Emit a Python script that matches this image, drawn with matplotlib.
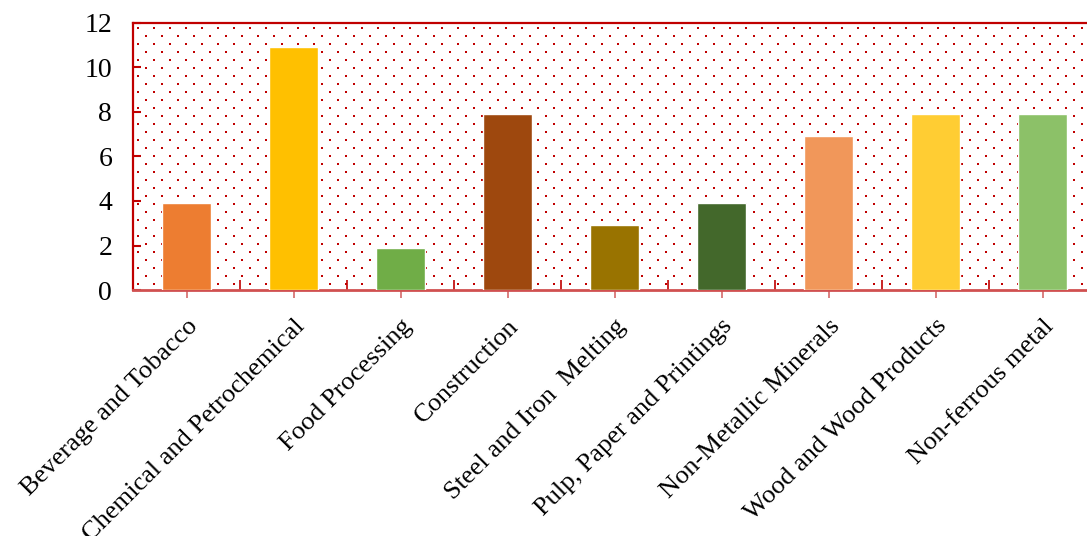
import numpy as np
import matplotlib
matplotlib.use("Agg")
import matplotlib.pyplot as plt
from matplotlib.transforms import IdentityTransform

categories = ["Beverage and Tobacco", "Chemical and Petrochemical", "Food Processing",
              "Construction", "Steel and Iron  Melting", "Pulp, Paper and Printings",
              "Non-Metallic Minerals", "Wood and Wood Products", "Non-ferrous metal"]
values = [3.9, 10.9, 1.9, 7.9, 2.9, 3.9, 6.9, 7.9, 7.9]
colors = ["#ED7D31", "#FFC000", "#70AD47", "#9E480E", "#997300",
          "#43682B", "#F1975A", "#FFCD33", "#8CC168"]

plt.rcParams['font.family'] = ['Liberation Serif', 'DejaVu Serif']
red = "#C00000"

W, H = 1087, 536
fig = plt.figure(figsize=(W/100, H/100), dpi=100)
x0, x1, y0, y1 = 133, 1096, 23, 290
ax = fig.add_axes([x0/W, 1 - y1/H, (x1-x0)/W, (y1-y0)/H])

x = np.arange(len(categories))
ax.bar(x, values, width=0.46, color=colors, edgecolor="white", linewidth=1, zorder=3)
ax.set_xlim(-0.5, len(categories) - 0.5)
ax.set_ylim(0, 12)
ax.set_yticks(np.arange(0, 13, 2))

# dotted background pattern (pixel grid)
xs, ys = [], []
row = 0
for py in np.arange(y0 + 5, y1, 8):
    off = 0 if row % 2 == 0 else 8
    for px in np.arange(x0 + 5 + off, W, 16):
        xs.append(px); ys.append(H - py)
    row += 1
ax.scatter(xs, ys, s=2.2, marker='s', color=red, linewidths=0,
           transform=IdentityTransform(), zorder=1, clip_on=True)

ax.set_xticks(np.arange(-0.5, len(categories), 1))
ax.set_xticklabels([])
ax.set_xticks(x, minor=True)
ax.set_xticklabels(categories, minor=True, rotation=45, ha='right', va='top',
                   rotation_mode='anchor', fontsize=19)
ax.tick_params(axis='x', which='major', direction='in', length=7, color=red, width=1.2)
ax.tick_params(axis='x', which='minor', direction='out', length=6, color="#D46A6A",
               width=1.2, pad=12)
ax.tick_params(axis='y', which='major', direction='in', length=6, color=red, width=1.5,
               labelsize=20, pad=15)

for s in ['left', 'top']:
    ax.spines[s].set_color(red)
    ax.spines[s].set_linewidth(1.6)
ax.spines['bottom'].set_color("#D05050")
ax.spines['bottom'].set_linewidth(2)
ax.spines['right'].set_visible(False)

fig.savefig("out.png", dpi=100)
